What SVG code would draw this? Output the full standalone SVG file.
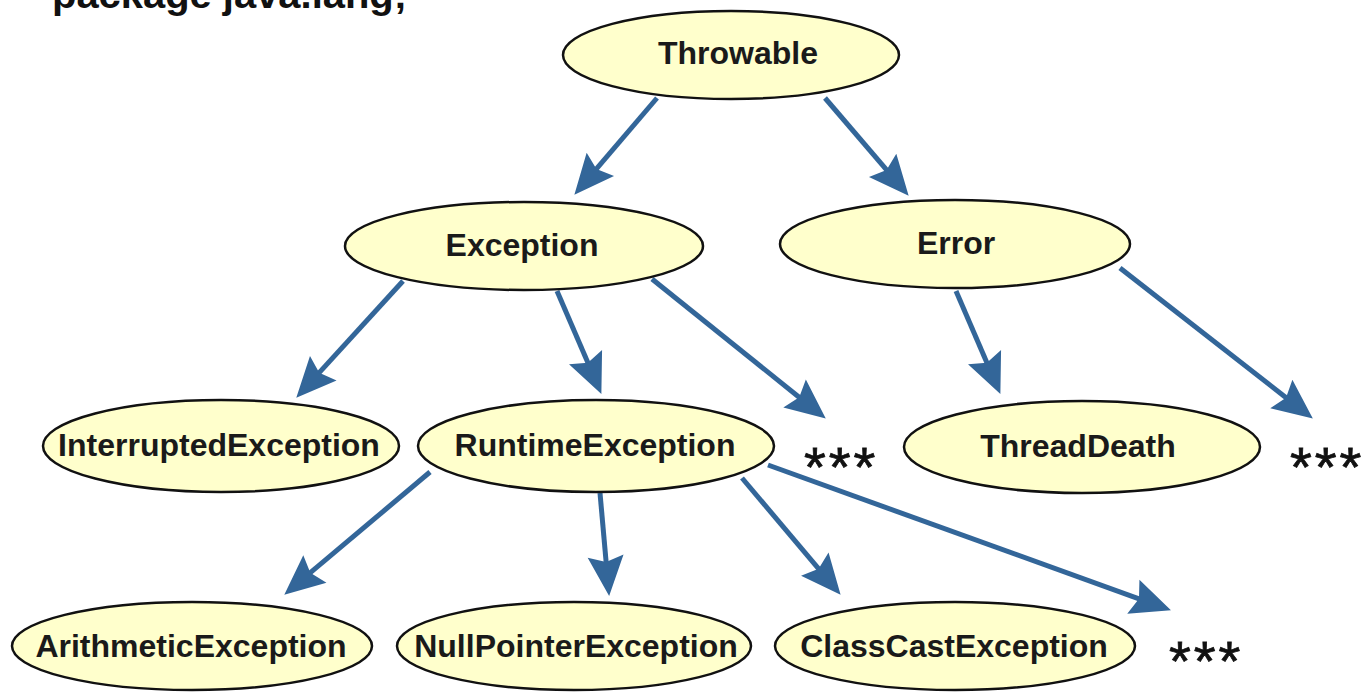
<svg xmlns="http://www.w3.org/2000/svg" width="1367" height="692" viewBox="0 0 1367 692">
<style>
  .node ellipse { fill: #ffffcc; stroke: #111; stroke-width: 2.5; }
  .node text { font-family: "Liberation Sans", Arial, sans-serif; font-weight: bold; font-size: 32px; fill: #1a1a1a; text-anchor: middle; }
  .edges line { stroke: #336699; stroke-width: 5; marker-end: url(#arrow); }
  .stars { font-family: "Liberation Sans", Arial, sans-serif; font-size: 56px; fill: #111; stroke: #111; stroke-width: 0.8; letter-spacing: 3px; }
  .title { font-family: "Liberation Sans", Arial, sans-serif; font-weight: bold; font-size: 38px; fill: #111; }
</style>
<defs>
  <marker id="arrow" markerUnits="userSpaceOnUse" orient="auto" refX="0" refY="0" markerWidth="60" markerHeight="60" viewBox="-20 -30 60 60" overflow="visible">
    <path d="M31,0 L-9,-18 L-3,0 L-9,18 Z" fill="#336699"/>
  </marker>
</defs>
<rect width="1367" height="692" fill="#fff"/>
<text class="title" x="52" y="8" textLength="355" lengthAdjust="spacingAndGlyphs">package java.lang;</text>

<g class="edges" id="connectors">
  <line x1="657" y1="98" x2="594.5" y2="171.2"/>
  <line x1="825" y1="98" x2="888.5" y2="172.2"/>
  <line x1="403" y1="281" x2="317.2" y2="374.9"/>
  <line x1="557" y1="291" x2="589.1" y2="365.5"/>
  <line x1="652" y1="279" x2="801.6" y2="399.2"/>
  <line x1="956" y1="291" x2="988.1" y2="365.5"/>
  <line x1="1120" y1="268" x2="1288.4" y2="399.5"/>
  <line x1="430" y1="472" x2="308" y2="574.7"/>
  <line x1="600" y1="493" x2="606.4" y2="565.1"/>
  <line x1="742" y1="478" x2="820.6" y2="571.1"/>
  <line x1="768" y1="465" x2="1141.8" y2="599.8"/>
</g>

<g class="node" id="throwable"><ellipse cx="731" cy="55" rx="168" ry="44"/><text x="738" y="64">Throwable</text></g>
<g class="node" id="exception"><ellipse cx="524" cy="246" rx="179" ry="44"/><text x="522" y="256">Exception</text></g>
<g class="node" id="error"><ellipse cx="955" cy="244" rx="175" ry="44"/><text x="956" y="254">Error</text></g>
<g class="node" id="interrupted"><ellipse cx="221" cy="446" rx="178" ry="46"/><text x="219" y="456">InterruptedException</text></g>
<g class="node" id="runtime"><ellipse cx="596" cy="446" rx="178" ry="46"/><text x="595" y="456">RuntimeException</text></g>
<g class="node" id="threaddeath"><ellipse cx="1082" cy="447" rx="178" ry="46"/><text x="1078" y="457">ThreadDeath</text></g>
<g class="node" id="arithmetic"><ellipse cx="192" cy="646" rx="180" ry="44"/><text x="191" y="657">ArithmeticException</text></g>
<g class="node" id="nullpointer"><ellipse cx="574" cy="646" rx="177" ry="44"/><text x="576" y="657">NullPointerException</text></g>
<g class="node" id="classcast"><ellipse cx="955" cy="646" rx="180" ry="44"/><text x="954" y="657">ClassCastException</text></g>

<g id="stars">
  <text class="stars" x="804" y="486">***</text>
  <text class="stars" x="1290" y="486">***</text>
  <text class="stars" x="1169" y="680">***</text>
</g>
</svg>
